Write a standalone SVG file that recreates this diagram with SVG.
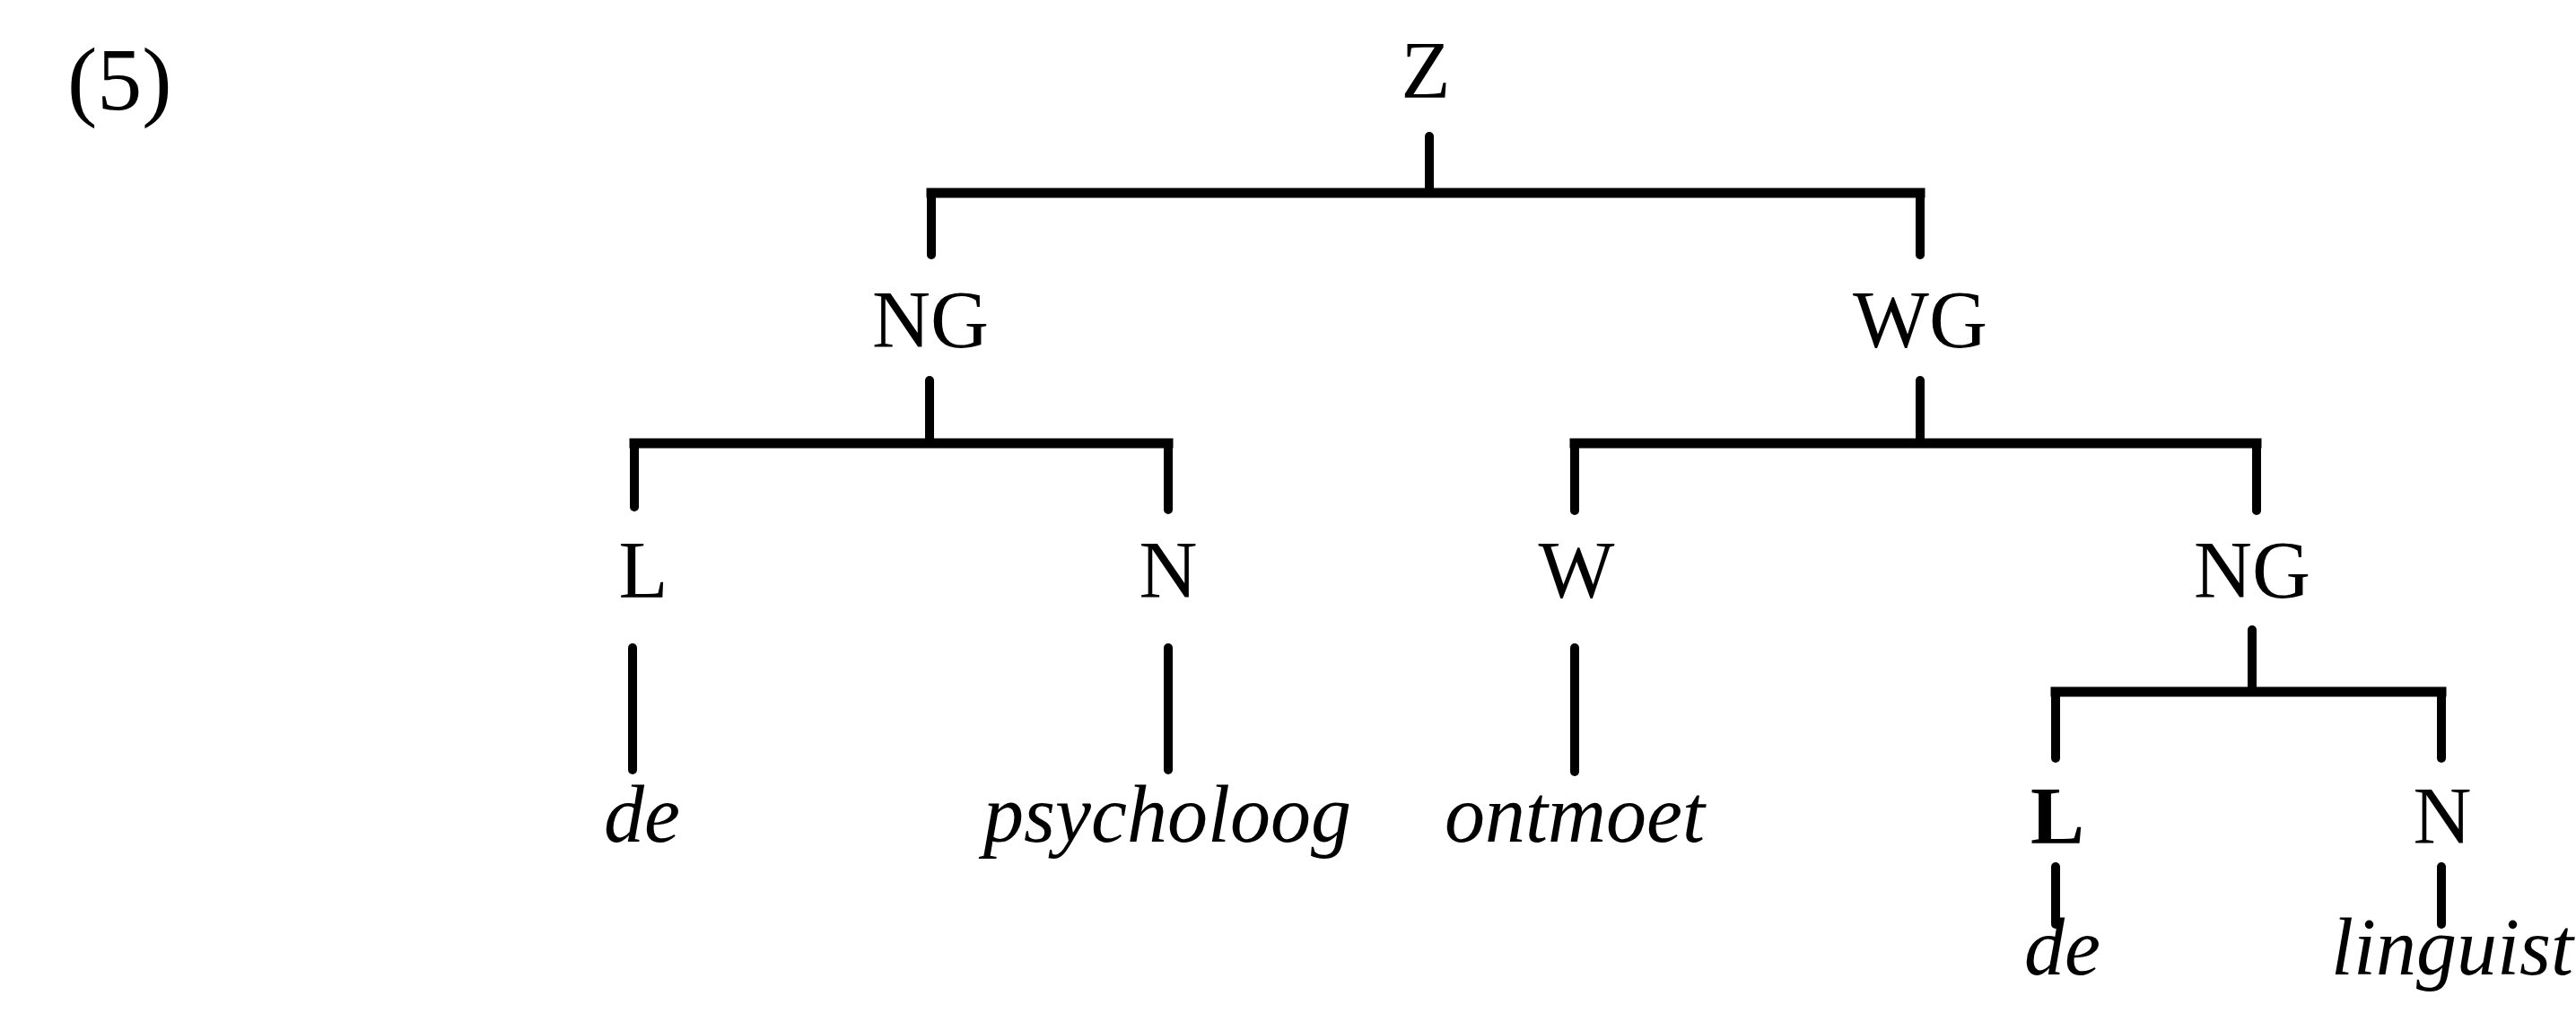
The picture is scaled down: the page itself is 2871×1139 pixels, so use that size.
<svg xmlns="http://www.w3.org/2000/svg" width="2871" height="1139" viewBox="0 0 2871 1139">
<style>
.lbl{font-family:"Liberation Serif","Times New Roman",serif;font-size:90px;fill:#000;text-anchor:middle}
.wrd{font-family:"Liberation Serif","Times New Roman",serif;font-size:90px;font-style:italic;fill:#000}
.num{font-family:"Liberation Serif","Times New Roman",serif;font-size:100px;fill:#000}
.ln{stroke:#000;stroke-width:10;fill:none;stroke-linecap:round}
.bar{stroke:#000;stroke-width:11;fill:none;stroke-linecap:square}
</style>
<rect width="2871" height="1139" fill="#fff"/>
<g id="example-number"><text class="num" x="75" y="122">(5)</text></g>
<g id="connectors">
  <line class="ln" x1="1593" y1="152" x2="1593" y2="215"/>
  <line class="bar" x1="1038" y1="215" x2="2140" y2="215"/>
  <line class="ln" x1="1038" y1="215" x2="1038" y2="284"/>
  <line class="ln" x1="2140" y1="215" x2="2140" y2="284"/>
  <line class="ln" x1="1036" y1="424" x2="1036" y2="494"/>
  <line class="bar" x1="707" y1="494" x2="1302" y2="494"/>
  <line class="ln" x1="707" y1="494" x2="707" y2="565"/>
  <line class="ln" x1="1302" y1="494" x2="1302" y2="568"/>
  <line class="ln" x1="2140" y1="424" x2="2140" y2="494"/>
  <line class="bar" x1="1755" y1="494" x2="2515" y2="494"/>
  <line class="ln" x1="1755" y1="494" x2="1755" y2="569"/>
  <line class="ln" x1="2515" y1="494" x2="2515" y2="569"/>
  <line class="ln" x1="705" y1="722" x2="705" y2="858"/>
  <line class="ln" x1="1302" y1="722" x2="1302" y2="858"/>
  <line class="ln" x1="1755" y1="722" x2="1755" y2="860"/>
  <line class="ln" x1="2510" y1="702" x2="2510" y2="771"/>
  <line class="bar" x1="2291" y1="771" x2="2721" y2="771"/>
  <line class="ln" x1="2291" y1="771" x2="2291" y2="845"/>
  <line class="ln" x1="2721" y1="771" x2="2721" y2="845"/>
  <line class="ln" x1="2291" y1="966" x2="2291" y2="1030"/>
  <line class="ln" x1="2721" y1="966" x2="2721" y2="1030"/>
</g>
<g id="node-Z"><text class="lbl" x="1589" y="109">Z</text></g>
<g id="node-NG1"><text class="lbl" x="1037" y="387">NG</text></g>
<g id="node-WG"><text class="lbl" x="2140" y="387">WG</text></g>
<g id="node-L1"><text class="lbl" x="717" y="666">L</text></g>
<g id="node-N1"><text class="lbl" x="1302" y="666">N</text></g>
<g id="node-W"><text class="lbl" x="1757" y="666">W</text></g>
<g id="node-NG2"><text class="lbl" x="2510" y="666">NG</text></g>
<g id="node-de1"><text class="wrd" x="673" y="938">de</text></g>
<g id="node-psycholoog"><text class="wrd" x="1096" y="938">psycholoog</text></g>
<g id="node-ontmoet"><text class="wrd" x="1610" y="938">ontmoet</text></g>
<g id="node-L2"><text class="lbl" x="2293" y="940" font-weight="bold">L</text></g>
<g id="node-N2"><text class="lbl" x="2722" y="940">N</text></g>
<g id="node-de2"><text class="wrd" x="2256" y="1086">de</text></g>
<g id="node-linguist"><text class="wrd" x="2598" y="1086">linguist</text></g>
</svg>
